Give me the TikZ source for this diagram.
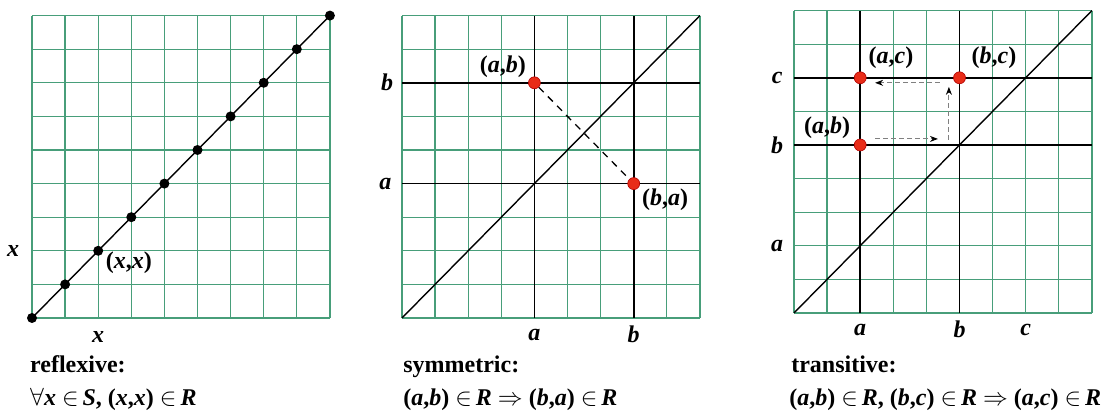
\documentclass[tikz,border=0pt]{standalone}
\usepackage{fontspec}
\setmainfont{Liberation Serif}
\usetikzlibrary{arrows.meta}

\definecolor{gridgreen}{RGB}{72,158,122}
\definecolor{dotred}{RGB}{232,44,24}
\newcommand{\pair}[2]{(\textit{#1},\textit{#2})}
\newcommand{\elem}{\ $\in$\,}

\tikzset{
  gridline/.style={gridgreen,line width=1.3pt},
  axisline/.style={black,line width=1.6pt},
  diag/.style={black,line width=1.4pt},
  bdot/.style={circle,fill=black,inner sep=0pt,minimum size=10pt},
  rdot/.style={circle,fill=dotred,draw=red!70!black,line width=0.6pt,inner sep=0pt,minimum size=12pt},
  lbl/.style={font=\fontsize{24}{28}\selectfont\bfseries,inner sep=0pt},
  caption/.style={font=\fontsize{24}{28}\selectfont\bfseries,anchor=base west,inner sep=0pt},
  hint/.style={gray,dash pattern=on 5pt off 3pt,line width=1pt,-{Stealth[length=8pt,width=6pt,color=black]}},
}

\begin{document}
\begin{tikzpicture}[x=33.1pt,y=33.6pt]
\useasboundingbox[fill=white] (0,0) rectangle (33.656,12.321);

% reflexive
\begin{scope}[shift={(0.967,2.857)}]
\foreach \i in {0,...,9}
  \draw[gridline] (\i,0) -- (\i,9) (0,\i) -- (9,\i);
\draw[diag] (0,0) -- (9,9);
\foreach \i in {0,...,9}
  \node[bdot] (r\i) at (\i,\i) {};
\node[lbl] (xleft) at (-0.57,2) {\textit{x}};
\node[lbl] (xbottom) at (2,-0.57) {\textit{x}};
\node[lbl] (xx) at (2.93,1.64) {\pair{x}{x}};
\end{scope}

% symmetric
\begin{scope}[shift={(12.145,2.857)}]
\foreach \i in {0,...,9}
  \draw[gridline] (\i,0) -- (\i,9) (0,\i) -- (9,\i);
\draw[axisline] (4,0) -- (4,9) (7,0) -- (7,9) (0,4) -- (9,4) (0,7) -- (9,7);
\draw[diag] (0,0) -- (9,9);
\node[rdot] (sab) at (4,7) {};
\node[rdot] (sba) at (7,4) {};
\draw[dash pattern=on 7pt off 6pt,line width=1.3pt] (sab) -- (sba);
\node[lbl] (sbleft) at (-0.45,7) {\textit{b}};
\node[lbl] (saleft) at (-0.5,4) {\textit{a}};
\node[lbl] (sabottom) at (4,-0.5) {\textit{a}};
\node[lbl] (sbbottom) at (7,-0.5) {\textit{b}};
\node[lbl] (sablbl) at (3.05,7.47) {\pair{a}{b}};
\node[lbl] (sbalbl) at (7.95,3.51) {\pair{b}{a}};
\end{scope}

% transitive
\begin{scope}[shift={(23.988,3.006)}]
\foreach \i in {0,...,9}
  \draw[gridline] (\i,0) -- (\i,9) (0,\i) -- (9,\i);
\draw[axisline] (2,0) -- (2,9) (5,0) -- (5,9) (0,5) -- (9,5) (0,7) -- (9,7);
\draw[diag] (0,0) -- (9,9);
\node[rdot] (tac) at (2,7) {};
\node[rdot] (tbc) at (5,7) {};
\node[rdot] (tab) at (2,5) {};
\coordinate (h1) at (2.45,5.18);
\coordinate (h2) at (4.35,5.18);
\coordinate (v1) at (4.68,5.15);
\coordinate (v2) at (4.68,6.73);
\coordinate (l1) at (4.41,6.85);
\coordinate (l2) at (2.45,6.85);
\draw[hint] (h1) -- (h2);
\draw[hint] (v1) -- (v2);
\draw[hint] (l1) -- (l2);
\node[lbl] (tcleft) at (-0.51,7) {\textit{c}};
\node[lbl] (tbleft) at (-0.51,5) {\textit{b}};
\node[lbl] (taleft) at (-0.51,2) {\textit{a}};
\node[lbl] (tabottom) at (2,-0.5) {\textit{a}};
\node[lbl] (tbbottom) at (5,-0.5) {\textit{b}};
\node[lbl] (tcbottom) at (7,-0.5) {\textit{c}};
\node[lbl] (taclbl) at (2.93,7.59) {\pair{a}{c}};
\node[lbl] (tbclbl) at (6.04,7.59) {\pair{b}{c}};
\node[lbl] (tablbl) at (1.0,5.5) {\pair{a}{b}};
\end{scope}

% captions
\node[caption] (refl) at (0.906,1.22) {reflexive:};
\node[caption] (reflf) at (0.906,0.238) {$\forall$\textit{x}\elem\textit{S}, \pair{x}{x}\elem\textit{R}};
\node[caption] (symm) at (12.18,1.22) {symmetric:};
\node[caption] (symmf) at (12.18,0.238) {\pair{a}{b}\elem\textit{R}\ $\Rightarrow$\ \pair{b}{a}\elem\textit{R}};
\node[caption] (trans) at (23.9,1.22) {transitive:};
\node[caption] (transf) at (23.84,0.238) {\pair{a}{b}\elem\textit{R}, \pair{b}{c}\elem\textit{R}\ $\Rightarrow$\ \pair{a}{c}\elem\textit{R}};
\end{tikzpicture}
\end{document}
